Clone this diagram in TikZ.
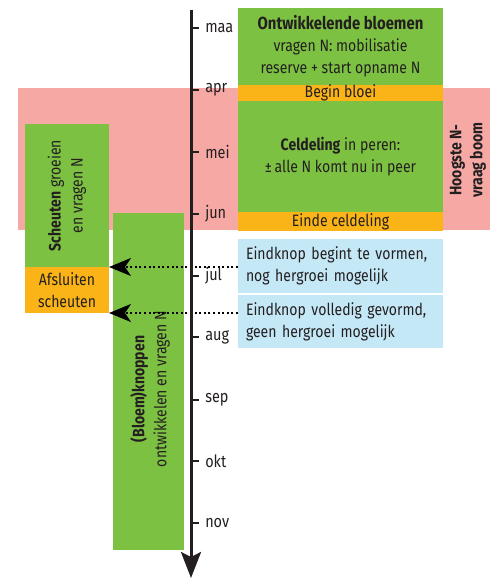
\documentclass[tikz,border=0pt]{standalone}
\usepackage{fontspec}
\setmainfont{Fira Sans}[FakeStretch=0.85]
\usetikzlibrary{arrows.meta}
\definecolor{gr}{HTML}{7DC142}
\definecolor{orng}{HTML}{FBB417}
\definecolor{pnk}{HTML}{F6A8A5}
\definecolor{lblue}{HTML}{C5E8F7}
\definecolor{ink}{HTML}{231F20}
\begin{document}
\begin{tikzpicture}[x=1pt,y=-1pt,
  font=\fontsize{16.5}{22}\selectfont, text=ink,
  box/.style={inner sep=0pt, outer sep=0pt, align=center},
  dotarrow/.style={line width=2pt, dash pattern=on 2pt off 2.6pt, -{Stealth[length=22pt,width=18pt,inset=6pt]}},
  tick/.style={line width=2.5pt, ink},
  month/.style={anchor=west, inner sep=0pt, font=\fontsize{17}{18}\selectfont}]
\useasboundingbox (0,0) rectangle (492,578);
% pink band
\node[box, fill=pnk, minimum width=472pt, minimum height=142pt] (pink) at (254,159) {};
\node[box, rotate=90, font=\bfseries\fontsize{16.5}{21}\selectfont] (hoog) at (468,160) {Hoogste N-\\vraag boom};
% right column
\node[box, fill=gr, minimum width=205pt, minimum height=77pt] (bloemen) at (340.5,46.5)
  {{\fontsize{17.5}{22}\selectfont\bfseries Ontwikkelende bloemen}\\vragen N: mobilisatie\\reserve + start opname N};
\node[box, fill=orng, minimum width=205pt, minimum height=16pt] (begin) at (340.5,93) {Begin bloei};
\node[box, fill=gr, minimum width=205pt, minimum height=111pt] (celdeling) at (340.5,156.5)
  {\textbf{Celdeling} in peren:\\±\,alle N komt nu in peer};
\node[box, fill=orng, minimum width=205pt, minimum height=19pt] (einde) at (340.5,221.5) {Einde celdeling};
\node[box, fill=lblue, minimum width=205pt, minimum height=54pt, text width=189pt, align=left, inner xsep=8pt] (blue1) at (340.5,266)
  {Eindknop begint te vormen,\\nog hergroei mogelijk};
\node[box, fill=lblue, minimum width=205pt, minimum height=53pt, text width=189pt, align=left, inner xsep=8pt] (blue2) at (340.5,321.5)
  {Eindknop volledig gevormd,\\geen hergroei mogelijk};
% left column
\node[box, fill=gr, minimum width=84pt, minimum height=143pt] (scheuten) at (67,195.5) {};
\node[box, rotate=90] at (scheuten.center) {\textbf{Scheuten} groeien\\en vragen N};
\node[box, fill=orng, minimum width=84pt, minimum height=46pt] (afsluiten) at (67,290) {Afsluiten\\scheuten};
\node[box, fill=gr, minimum width=71pt, minimum height=337pt] (knoppen) at (148.5,381.5) {};
\node[box, rotate=90] (knoptxt) at (150,389) {\textbf{(Bloem)knoppen}\\ontwikkelen en vragen N};
% dotted arrows
\draw[dotarrow] (blue1.west |- afsluiten.north east) -- (afsluiten.north east);
\draw[dotarrow] (blue1.west |- afsluiten.south east) -- (afsluiten.south east);
% axis
\coordinate (axtop) at (191,10);
\coordinate (axbot) at (191,578);
\draw[line width=3pt, ink, -{Stealth[length=26pt,width=20pt,inset=5pt]}] (axtop) -- (axbot);
\foreach \m/\y in {maa/28, apr/90, mei/152, jun/214, jul/276, aug/337, sep/400, okt/461, nov/523}{
  \draw[tick] (191,\y) -- (199,\y) node[month, xshift=5pt] (m\m) {\m};
}
\end{tikzpicture}
\end{document}
